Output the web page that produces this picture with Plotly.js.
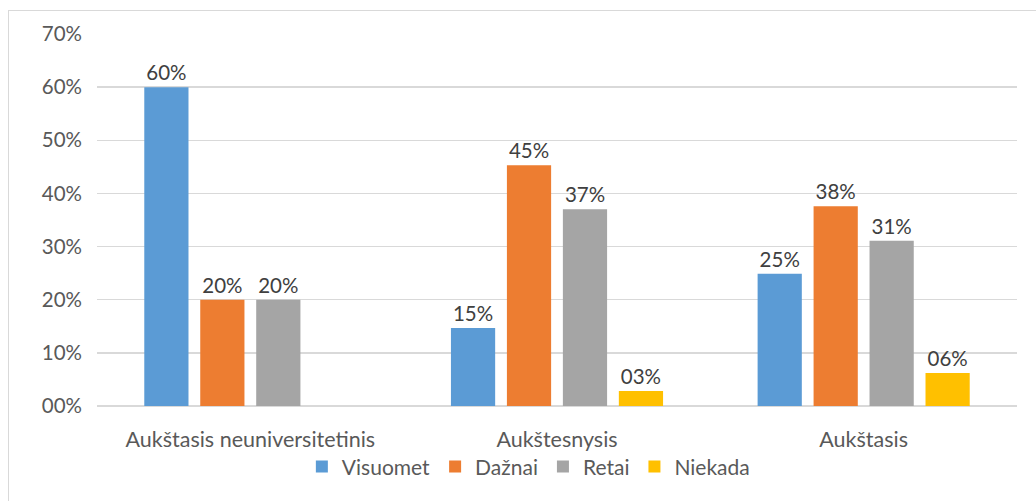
<!DOCTYPE html>
<html>
<head>
<meta charset="utf-8">
<script src="https://cdn.plot.ly/plotly-3.0.1.min.js"></script>
<style>
  body { margin: 0; background: #fff; }
  #frame { position: absolute; left: 8px; top: 10px; width: 1040px; height: 500px; border: 1px solid #d9d9d9; pointer-events: none; }
  #graph { position: absolute; left: 0; top: 0; width: 1036px; height: 501px; }
</style>
</head>
<body>
<div id="graph"></div>
<div id="frame"></div>
<script>
// education levels
var levels = ['Aukštasis neuniversitetinis', 'Aukštesnysis', 'Aukštasis'];

// answers (share of respondents)
var visuomet = [0.60, 0.147, 0.249];
var daznai = [0.20, 0.453, 0.376];
var retai = [0.20, 0.370, 0.311];
var niekada = [null, 0.028, 0.062];

var names = ['Visuomet', 'Dažnai', 'Retai', 'Niekada'];
var colors = ['#5b9bd5', '#ed7d31', '#a5a5a5', '#ffc000'];
var series = [visuomet, daznai, retai, niekada];

var data = series.map(function(vals, i) {
	return {
		x: levels,
		y: vals,
		name: names[i],
		type: 'bar',
		marker: { color: colors[i] },
		texttemplate: '%{y:03.0%}',
		textposition: 'outside',
		cliponaxis: false,
		textfont: { family: 'Lato, sans-serif', size: 20.5, color: '#404040' }
	};
});

var layout = {
	width: 1036,
	height: 501,
	margin: { l: 97, r: 19, t: 34, b: 95 },
	paper_bgcolor: '#fff',
	plot_bgcolor: '#fff',
	font: { family: 'Lato, sans-serif', size: 20, color: '#595959' },
	barmode: 'group',
	bargap: 0.27,
	bargroupgap: 0.21,
	showlegend: true,
	legend: {
		orientation: 'h',
		xref: 'container', yref: 'container',
		x: 0.51, xanchor: 'center',
		y: 0.068, yanchor: 'middle',
		bgcolor: 'rgba(0,0,0,0)',
		font: { size: 21, color: '#595959' },
		itemwidth: 30
	},
	xaxis: {
		type: 'category',
		showline: false,
		ticks: '',
		ticklabelstandoff: 18,
		tickfont: { size: 21.5, color: '#595959' }
	},
	yaxis: {
		range: [0, 0.7],
		dtick: 0.1,
		tickformat: '03.0%',
		showgrid: true,
		gridcolor: '#d9d9d9',
		gridwidth: 1.5,
		zeroline: true,
		zerolinecolor: '#d9d9d9',
		zerolinewidth: 1.5,
		ticks: '',
		ticklabelstandoff: 14,
		tickfont: { size: 20.5, color: '#595959' }
	}
};

Plotly.newPlot('graph', data, layout, { staticPlot: true });
</script>
</body>
</html>
